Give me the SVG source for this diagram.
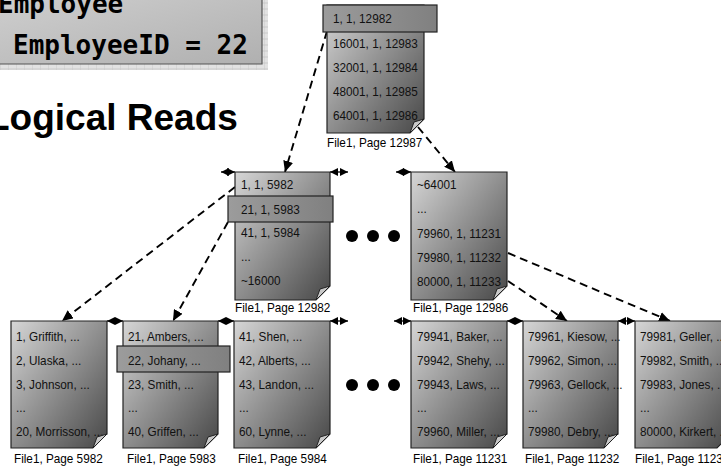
<svg xmlns="http://www.w3.org/2000/svg" width="721" height="468" viewBox="0 0 721 468">
<defs>
<linearGradient id="pg" x1="0" y1="0" x2="1" y2="1">
<stop offset="0" stop-color="#d6d6d6"/>
<stop offset="1" stop-color="#474747"/>
</linearGradient>
<linearGradient id="hl" x1="0" y1="0" x2="1" y2="0">
<stop offset="0" stop-color="#9c9c9c"/>
<stop offset="1" stop-color="#808080"/>
</linearGradient>
<linearGradient id="bx" x1="0" y1="0" x2="1" y2="1">
<stop offset="0" stop-color="#cfcfcf"/>
<stop offset="1" stop-color="#b0b0b0"/>
</linearGradient>
<pattern id="hatch" width="8" height="6" patternUnits="userSpaceOnUse">
<rect width="8" height="6" fill="#e2e2e2"/>
<path d="M0,0 V6 M0,3 H8" stroke="#c4c4c4" stroke-width="0.8"/>
</pattern>
<marker id="ah" markerUnits="userSpaceOnUse" markerWidth="11" markerHeight="10" refX="11" refY="5" orient="auto">
<path d="M0,0 L11,5 L0,10 z" fill="#000"/>
</marker>
<marker id="sa" markerUnits="userSpaceOnUse" markerWidth="8" markerHeight="8" refX="8" refY="4" orient="auto-start-reverse">
<path d="M0,0 L8,4 L0,8 z" fill="#000"/>
</marker>
</defs>
<style>
.pg{fill:url(#pg);stroke:#222;stroke-width:1.2}
.fold{fill:#c9c9c9;stroke:#222;stroke-width:1}
.cut{fill:#fff}
.hl{fill:url(#hl);stroke:#222;stroke-width:1.2}
.t,.lbl{font-family:"Liberation Sans",Arial,sans-serif;font-size:13.5px;transform-box:fill-box;transform-origin:0 50%;transform:scaleX(0.87)}
.t{fill:#111}
.lbl{fill:#000}
.dash{fill:none;stroke:#000;stroke-width:1.9;stroke-dasharray:8 5;marker-end:url(#ah)}
.sib{fill:none;stroke:#000;stroke-width:1.3;marker-start:url(#sa);marker-end:url(#sa)}
.dot{fill:#000}
.mono{font-family:"DejaVu Sans Mono","Liberation Mono",monospace;font-weight:bold;font-size:26px;fill:#000}
</style>

<g id="query">
<rect x="-5" y="-5" width="267" height="69" fill="url(#bx)"/>
<rect x="-5" y="64" width="273" height="6" fill="url(#hatch)"/>
<rect x="262" y="-5" width="6" height="69" fill="url(#hatch)"/>
<path d="M-5,64 H262 V-5" fill="none" stroke="#555" stroke-width="1.2"/>
<text class="mono" x="-2" y="13">Employee</text>
<text class="mono" x="13" y="54">EmployeeID = 22</text>
</g>

<g id="title">
<text x="-13" y="130" font-family="Liberation Sans,Arial,sans-serif" font-weight="bold" font-size="37" fill="#000">Logical Reads</text>
</g>

<g id="connectors">
<path class="dash" d="M327,31 L285,172"/>
<path class="dash" d="M418,127 L455,172"/>
<path class="dash" d="M235,187 L62,321"/>
<path class="dash" d="M228,222 L173,321"/>
<path class="dash" d="M508,253 L670,321"/>
<path class="dash" d="M508,281 L567,321"/>
<path class="sib" d="M221,172 H235"/>
<path class="sib" d="M330,172 H348"/>
<path class="sib" d="M396,172 H411"/>
<path class="sib" d="M107,321 H123"/>
<path class="sib" d="M218,321 H234"/>
<path class="sib" d="M330,321 H348"/>
<path class="sib" d="M394,321 H411"/>
<path class="sib" d="M507,321 H523"/>
<path class="sib" d="M618,321 H635"/>
</g>

<g id="page12987">
<polygon class="pg" points="327,5 424,5 424,119 410,133 327,133"/>
<rect class="hl" x="323" y="5" width="114" height="27"/>
<text class="t" x="333" y="23">1, 1, 12982</text>
<text class="t" x="333" y="48">16001, 1, 12983</text>
<text class="t" x="333" y="72">32001, 1, 12984</text>
<text class="t" x="333" y="96">48001, 1, 12985</text>
<text class="t" x="333" y="120">64001, 1, 12986</text>
<polygon class="fold" points="424,119 410,133 414,122"/>
<text class="lbl" x="327" y="147">File1, Page 12987</text>
</g>

<g id="page12982">
<polygon class="pg" points="235,172 330,172 330,286 316,300 235,300"/>
<text class="t" x="241" y="189">1, 1, 5982</text>
<rect class="hl" x="228" y="196" width="105" height="26"/>
<text class="t" x="241" y="214">21, 1, 5983</text>
<text class="t" x="241" y="237">41, 1, 5984</text>
<text class="t" x="241" y="261">...</text>
<text class="t" x="241" y="285">~16000</text>
<polygon class="fold" points="330,286 316,300 320,289"/>
<text class="lbl" x="235" y="312">File1, Page 12982</text>
</g>

<g id="page12986">
<polygon class="pg" points="411,172 507,172 507,286 493,300 411,300"/>
<text class="t" x="417" y="189">~64001</text>
<text class="t" x="417" y="213">...</text>
<text class="t" x="417" y="238">79960, 1, 11231</text>
<text class="t" x="417" y="262">79980, 1, 11232</text>
<text class="t" x="417" y="286">80000, 1, 11233</text>
<polygon class="fold" points="507,286 493,300 497,289"/>
<text class="lbl" x="413" y="312">File1, Page 12986</text>
</g>

<g id="dots">
<circle class="dot" cx="352" cy="236" r="6"/>
<circle class="dot" cx="373" cy="236" r="6"/>
<circle class="dot" cx="394" cy="236" r="6"/>
<circle class="dot" cx="352" cy="385" r="6"/>
<circle class="dot" cx="373" cy="385" r="6"/>
<circle class="dot" cx="394" cy="385" r="6"/>
</g>

<g id="page5982">
<polygon class="pg" points="11,321 107,321 107,434 93,448 11,448"/>
<text class="t" x="16" y="341">1, Griffith, ...</text>
<text class="t" x="16" y="365">2, Ulaska, ...</text>
<text class="t" x="16" y="389">3, Johnson, ...</text>
<text class="t" x="16" y="412">...</text>
<text class="t" x="16" y="436">20, Morrisson, ...</text>
<polygon class="cut" points="107,434 107,449 93,449"/>
<polygon class="fold" points="107,434 93,448 97,437"/>
<text class="lbl" x="14" y="463">File1, Page 5982</text>
</g>

<g id="page5983">
<polygon class="pg" points="123,321 218,321 218,434 204,448 123,448"/>
<text class="t" x="128" y="341">21, Ambers, ...</text>
<rect class="hl" x="117" y="346" width="113" height="26"/>
<text class="t" x="128" y="365">22, Johany, ...</text>
<text class="t" x="128" y="389">23, Smith, ...</text>
<text class="t" x="128" y="412">...</text>
<text class="t" x="128" y="436">40, Griffen, ...</text>
<polygon class="fold" points="218,434 204,448 208,437"/>
<text class="lbl" x="127" y="463">File1, Page 5983</text>
</g>

<g id="page5984">
<polygon class="pg" points="234,321 330,321 330,434 316,448 234,448"/>
<text class="t" x="239" y="341">41, Shen, ...</text>
<text class="t" x="239" y="365">42, Alberts, ...</text>
<text class="t" x="239" y="389">43, Landon, ...</text>
<text class="t" x="239" y="412">...</text>
<text class="t" x="239" y="436">60, Lynne, ...</text>
<polygon class="fold" points="330,434 316,448 320,437"/>
<text class="lbl" x="238" y="463">File1, Page 5984</text>
</g>

<g id="page11231">
<polygon class="pg" points="411,321 507,321 507,434 493,448 411,448"/>
<text class="t" x="417" y="341">79941, Baker, ...</text>
<text class="t" x="417" y="365">79942, Shehy, ...</text>
<text class="t" x="417" y="389">79943, Laws, ...</text>
<text class="t" x="417" y="412">...</text>
<text class="t" x="417" y="436">79960, Miller, ...</text>
<polygon class="cut" points="507,434 507,449 493,449"/>
<polygon class="fold" points="507,434 493,448 497,437"/>
<text class="lbl" x="413" y="463">File1, Page 11231</text>
</g>

<g id="page11232">
<polygon class="pg" points="523,321 618,321 618,434 604,448 523,448"/>
<text class="t" x="528" y="341">79961, Kiesow, ...</text>
<text class="t" x="528" y="365">79962, Simon, ...</text>
<text class="t" x="528" y="389">79963, Gellock, ...</text>
<text class="t" x="528" y="412">...</text>
<text class="t" x="528" y="436">79980, Debry, ...</text>
<polygon class="cut" points="618,434 618,449 604,449"/>
<polygon class="fold" points="618,434 604,448 608,437"/>
<text class="lbl" x="525" y="463">File1, Page 11232</text>
</g>

<g id="page11233">
<polygon class="pg" points="635,321 731,321 731,434 717,448 635,448"/>
<text class="t" x="640" y="341">79981, Geller, ...</text>
<text class="t" x="640" y="365">79982, Smith, ...</text>
<text class="t" x="640" y="389">79983, Jones, ...</text>
<text class="t" x="640" y="412">...</text>
<text class="t" x="640" y="436">80000, Kirkert, ...</text>
<text class="lbl" x="635" y="463">File1, Page 11233</text>
</g>
</svg>
